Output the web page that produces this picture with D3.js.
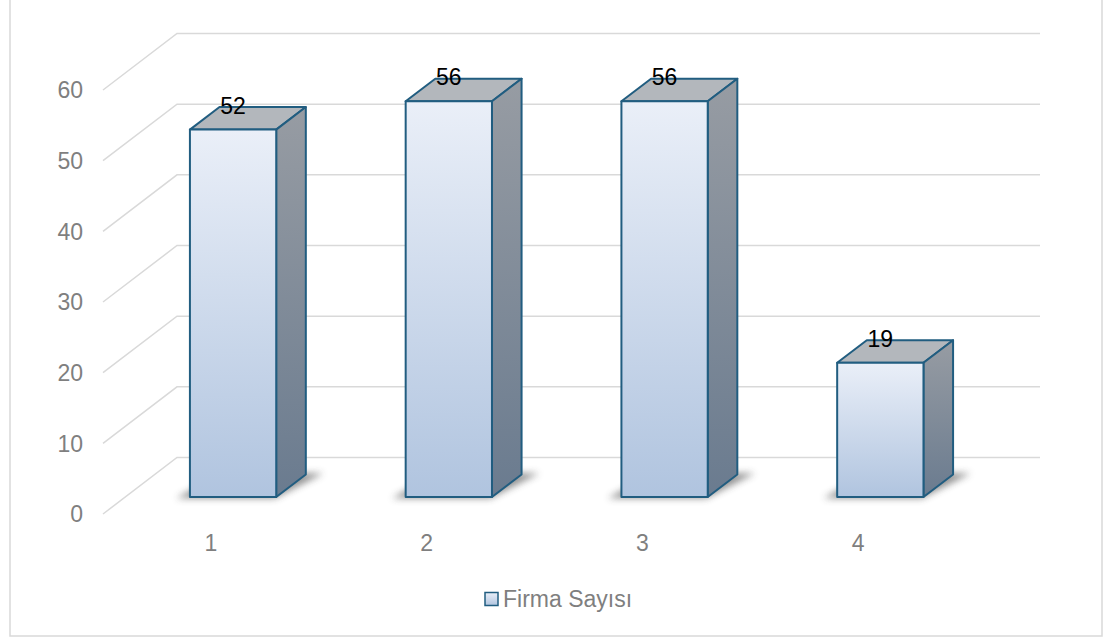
<!DOCTYPE html>
<html>
<head>
<meta charset="utf-8">
<script src="https://cdn.jsdelivr.net/npm/d3@7"></script>
<style>
  html, body { margin: 0; padding: 0; background: #fff; }
  svg { display: block; }
  text { font-family: "Liberation Sans", Arial, sans-serif; }
</style>
</head>
<body>
<svg id="chart" width="1120" height="639"></svg>
<script>
// Firma sayısı per group
const categories = ["1", "2", "3", "4"];
const values = [52, 56, 56, 19];
const yTicks = [0, 10, 20, 30, 40, 50, 60];
const seriesName = "Firma Sayısı";

const W = 1120, H = 639;
const FS = 23;
const svg = d3.select("#chart");

// 3D layout: floor front edge, depth offset to the back wall
const floorLeft = 103, floorRight = 966, floorFrontY = 514;
const depthX = 74, depthY = 56.5;
const wallHeight = 424;

const x = d3.scaleBand().domain(categories).range([floorLeft, floorRight]).paddingInner(0).paddingOuter(0);
const y = d3.scaleLinear().domain([0, 60]).range([floorFrontY, floorFrontY - wallHeight]);

// project (screen x at front, value, depth 0..1) onto the page
const P = (px, v, z) => [px + z * depthX, y(v) - z * depthY];

const defs = svg.append("defs");
const frontGrad = defs.append("linearGradient").attr("id", "frontGrad").attr("x1", 0).attr("y1", 0).attr("x2", 0).attr("y2", 1);
frontGrad.append("stop").attr("offset", "0%").attr("stop-color", "#eaeff8");
frontGrad.append("stop").attr("offset", "100%").attr("stop-color", "#b0c4df");
const sideGrad = defs.append("linearGradient").attr("id", "sideGrad").attr("x1", 0).attr("y1", 0).attr("x2", 0).attr("y2", 1);
sideGrad.append("stop").attr("offset", "0%").attr("stop-color", "#979ca3");
sideGrad.append("stop").attr("offset", "100%").attr("stop-color", "#6a7b8f");
const legGrad = defs.append("linearGradient").attr("id", "legGrad").attr("x1", 0).attr("y1", 0).attr("x2", 0).attr("y2", 1);
legGrad.append("stop").attr("offset", "0%").attr("stop-color", "#eaeff8");
legGrad.append("stop").attr("offset", "100%").attr("stop-color", "#b0c4df");
defs.append("filter").attr("id", "shadowBlur").attr("x", "-50%").attr("y", "-100%").attr("width", "200%").attr("height", "300%")
  .append("feGaussianBlur").attr("stdDeviation", 3.5);

// chart border
svg.append("rect").attr("x", 10).attr("y", -2).attr("width", 1092).attr("height", 638)
  .attr("fill", "none").attr("stroke", "#d9d9d9").attr("stroke-width", 1.5);

// gridlines: side wall diagonal + back wall horizontal
const grid = svg.append("g").attr("stroke", "#d9d9d9").attr("stroke-width", 1.5).attr("fill", "none");
yTicks.forEach(t => {
  const a = P(floorLeft, t, 0), b = P(floorLeft, t, 1), c = P(floorRight, t, 1);
  grid.append("polyline").attr("points", [a, b, c].map(p => p.join(",")).join(" "));
});

// value axis labels
svg.append("g").selectAll("text").data(yTicks).join("text")
  .attr("x", floorLeft - 20)
  .attr("y", d => y(d))
  .attr("dy", "0.36em")
  .attr("text-anchor", "end")
  .attr("font-size", FS)
  .attr("fill", "#7f7f7f")
  .text(d => d);

// category labels
svg.append("g").selectAll("text").data(categories).join("text")
  .attr("x", d => x(d) + x.bandwidth() / 2)
  .attr("y", 551)
  .attr("text-anchor", "middle")
  .attr("font-size", FS)
  .attr("fill", "#7f7f7f")
  .text(d => d);

// bars
const z0 = 0.3, z1 = 0.7;
const data = categories.map((c, i) => ({ c, v: values[i] }));
const bars = svg.append("g");
const pts = arr => arr.map(p => p.join(",")).join(" ");

data.forEach(d => {
  const bw = x.bandwidth();
  const xl = x(d.c) + bw * 0.3, xr = x(d.c) + bw * 0.7;
  const g = bars.append("g");

  // base shadow
  g.append("polygon")
    .attr("points", pts([P(xl - 12, 0, z0 - 0.02), P(xr, 0, z0 - 0.02), P(xr + 16, 0, z1 + 0.02), P(xl, 0, z1 + 0.02)]))
    .attr("fill", "#3a3a3a").attr("opacity", 0.55).attr("filter", "url(#shadowBlur)");

  const stroke = { "stroke": "#215d80", "stroke-width": 2, "stroke-linejoin": "round" };
  const top = g.append("polygon")
    .attr("points", pts([P(xl, d.v, z0), P(xr, d.v, z0), P(xr, d.v, z1), P(xl, d.v, z1)]))
    .attr("fill", "#b3b7bc");
  const side = g.append("polygon")
    .attr("points", pts([P(xr, d.v, z0), P(xr, d.v, z1), P(xr, 0, z1), P(xr, 0, z0)]))
    .attr("fill", "url(#sideGrad)");
  const front = g.append("polygon")
    .attr("points", pts([P(xl, d.v, z0), P(xr, d.v, z0), P(xr, 0, z0), P(xl, 0, z0)]))
    .attr("fill", "url(#frontGrad)");
  [top, side, front].forEach(s => Object.entries(stroke).forEach(([k, v]) => s.attr(k, v)));

  // value label
  const c = P((xl + xr) / 2, d.v, z0);
  g.append("text")
    .attr("x", c[0]).attr("y", c[1] - 16)
    .attr("text-anchor", "middle")
    .attr("font-size", FS)
    .attr("fill", "#000")
    .text(d.v);
});

// legend
const leg = svg.append("g");
leg.append("rect").attr("x", 485).attr("y", 592.5).attr("width", 13).attr("height", 13)
  .attr("fill", "url(#legGrad)").attr("stroke", "#215d80").attr("stroke-width", 1.5);
leg.append("text").attr("x", 503).attr("y", 607).attr("font-size", FS).attr("fill", "#7f7f7f").text(seriesName);
</script>
</body>
</html>
